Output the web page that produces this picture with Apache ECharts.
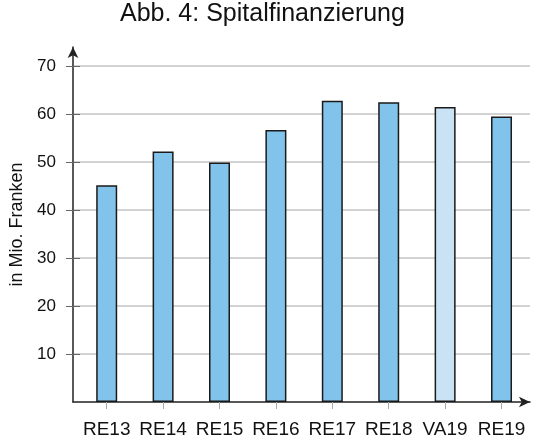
<!DOCTYPE html>
<html lang="de">
<head>
    <meta charset="UTF-8">
    <title>Spitalfinanzierung</title>
    <script src="https://cdn.jsdelivr.net/npm/echarts@6/dist/echarts.min.js"></script>
    <style>
        html, body { margin: 0; padding: 0; background: #fff; }
        #chart { width: 539px; height: 439px; }
    </style>
</head>
<body>
<div id="chart"></div>
<script type="text/javascript">
    // Daten
    var categories = ['RE13', 'RE14', 'RE15', 'RE16', 'RE17', 'RE18', 'VA19', 'RE19'];
    var values = [45.2, 52.2, 49.9, 56.7, 62.8, 62.5, 61.5, 59.5];
    var yTicks = [10, 20, 30, 40, 50, 60, 70];

    var catIdx = categories.map(function (c, i) { return i; });
    var font = '"Liberation Sans", Arial, sans-serif';

    var barData = values.map(function (v, i) {
        return {
            value: [i, v],
            itemStyle: { color: categories[i].indexOf('VA') === 0 ? '#c9e3f5' : '#82c3ec' }
        };
    });

    var option = {
        animation: false,
        title: {
            text: 'Abb. 4: Spitalfinanzierung',
            left: 120,
            top: 2,
            padding: 0,
            textStyle: { fontFamily: font, fontSize: 25, fontWeight: 'normal', color: '#111' }
        },
        grid: { left: 73, right: 9, top: 47, bottom: 36 },
        xAxis: {
            type: 'value',
            min: -0.5975,
            max: 7.505,
            axisLine: {
                show: true,
                onZero: false,
                lineStyle: { color: '#222', width: 1.5 },
                symbol: ['none', 'arrow'],
                symbolSize: [8, 11]
            },
            axisTick: { show: true, length: 7, customValues: catIdx, lineStyle: { color: '#aaa' } },
            axisLabel: {
                customValues: catIdx,
                margin: 18,
                fontFamily: font,
                fontSize: 19,
                color: '#111',
                formatter: function (v) { return categories[v] || ''; }
            },
            splitLine: { show: false }
        },
        yAxis: [{
            type: 'value',
            min: 0,
            max: 74,
            name: 'in Mio. Franken',
            nameLocation: 'middle',
            nameGap: 47,
            nameRotate: 90,
            nameTextStyle: { fontFamily: font, fontSize: 18, color: '#111' },
            axisLine: {
                show: true,
                onZero: false,
                lineStyle: { color: '#222', width: 1.5 },
                symbol: ['none', 'arrow'],
                symbolSize: [8, 11]
            },
            axisTick: { show: true, length: 7, customValues: yTicks, lineStyle: { color: '#666' } },
            axisLabel: {
                customValues: yTicks,
                margin: 17,
                fontFamily: font,
                fontSize: 17,
                color: '#111'
            },
            splitLine: { show: true, lineStyle: { color: '#c4c4c4', width: 1.5 } }
        }, {
            type: 'value',
            min: 0,
            max: 74,
            position: 'left',
            axisLine: { show: false, onZero: false },
            axisTick: { show: true, inside: true, length: 7, customValues: yTicks, lineStyle: { color: '#666' } },
            axisLabel: { show: false },
            splitLine: { show: false }
        }],
        series: [{
            type: 'bar',
            data: barData,
            barWidth: 21,
            itemStyle: { borderColor: '#1a1a1a', borderWidth: 1.5 }
        }]
    };

    var myChart = echarts.init(document.getElementById('chart'));
    myChart.setOption(option);
</script>
</body>
</html>
